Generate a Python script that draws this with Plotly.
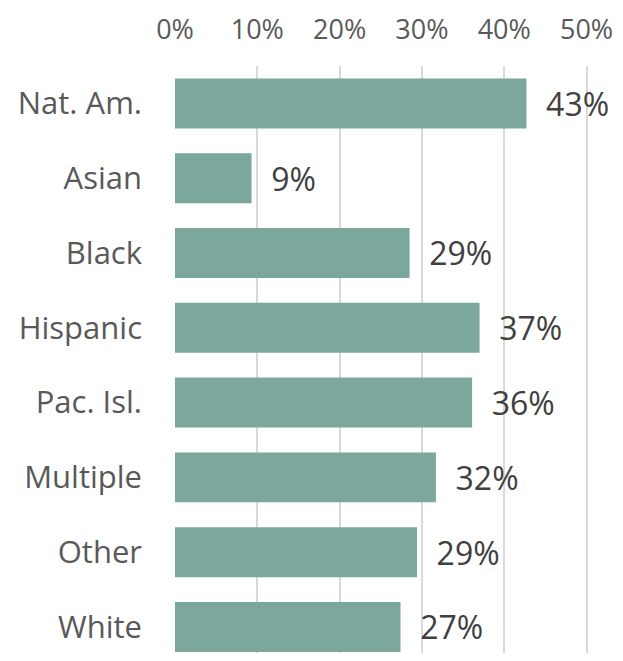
import plotly.graph_objects as go

categories = ["Nat. Am.", "Asian", "Black", "Hispanic", "Pac. Isl.", "Multiple", "Other", "White"]
values = [0.427, 0.093, 0.285, 0.370, 0.361, 0.317, 0.294, 0.274]
labels = ["43%", "9%", "29%", "37%", "36%", "32%", "29%", "27%"]
tick_vals = [0, 0.1, 0.2, 0.3, 0.4, 0.5]
tick_text = ["0%", "10%", "20%", "30%", "40%", "50%"]

FONT = "Open Sans"

fig = go.Figure(go.Bar(
    x=values, y=categories, orientation="h",
    marker=dict(color="#7BA79C", line=dict(width=0)),
    text=["\u00a0\u00a0" + t for t in labels], textposition="outside", cliponaxis=False,
    textfont=dict(family=FONT, size=32, color="#404040"),
))

fig.update_layout(
    width=615, height=645,
    margin=dict(l=167, r=0, t=58, b=0, pad=0, autoexpand=False),
    paper_bgcolor="white", plot_bgcolor="white",
    bargap=0.332,
    showlegend=False,
    xaxis=dict(
        side="top", range=[0, 0.5443], automargin=False,
        tickvals=tick_vals, ticktext=tick_text,
        showgrid=True, gridcolor="#D9D9D9", gridwidth=1.5,
        zeroline=False, showline=False, ticks="",
        tickfont=dict(family=FONT, size=27, color="#595959"),
        ticklabelstandoff=21,
    ),
    yaxis=dict(
        categoryorder="array", categoryarray=categories,
        range=[7.348, -0.5], automargin=False,
        showgrid=False, zeroline=False, showline=False, ticks="",
        tickfont=dict(family=FONT, size=31, color="#595959"),
        ticklabelstandoff=32,
    ),
)

fig.write_html("out.html")
